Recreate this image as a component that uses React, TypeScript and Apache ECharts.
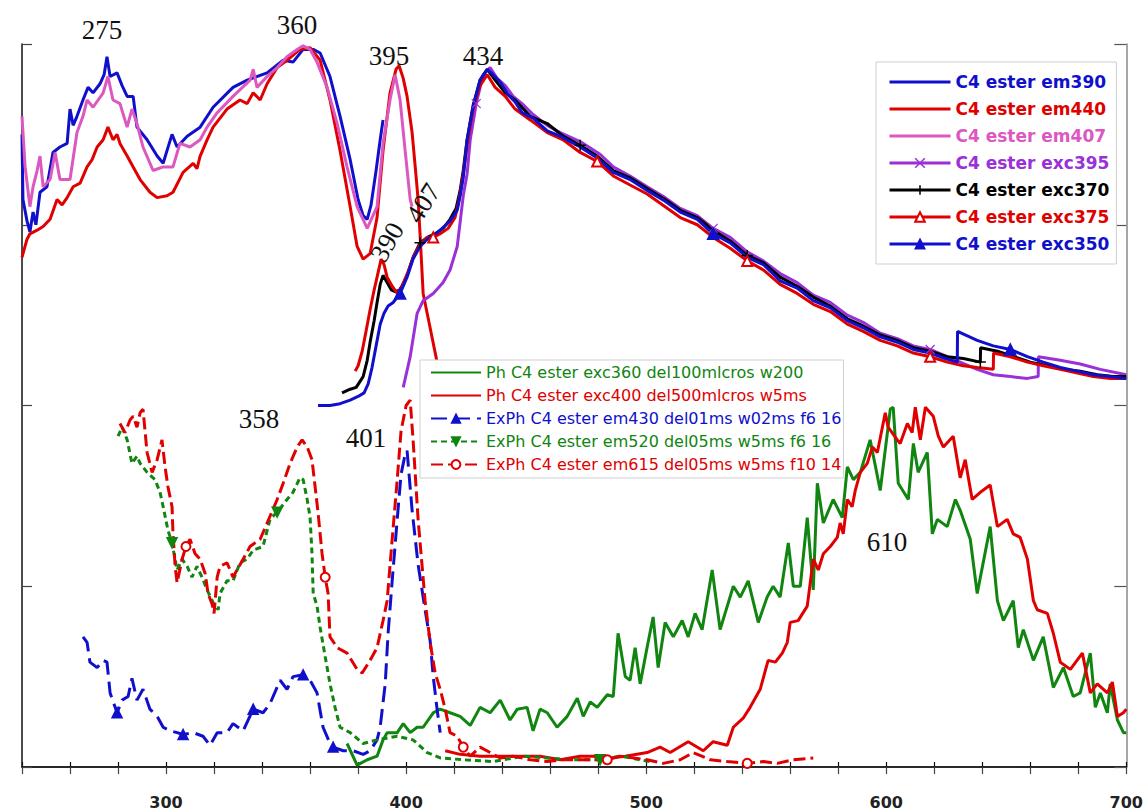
import React, { useEffect, useRef } from 'react';
import * as echarts from 'echarts';

type P = [number, number];

// ---------- upper spectra (excitation / fluorescence) ----------
const em390: P[] = [[240.0,3.50],[240.4,3.14],[242.1,3.02],[243.3,2.96],[244.6,3.07],[245.8,3.00],[247.5,3.18],[250.4,3.21],[252.9,3.40],[255.8,3.43],[258.8,3.45],[260.0,3.64],[261.3,3.55],[262.9,3.60],[265.4,3.69],[267.5,3.76],[269.6,3.73],[272.5,3.78],[274.2,3.83],[275.4,3.93],[276.7,3.82],[279.6,3.84],[281.7,3.77],[283.8,3.71],[286.3,3.71],[287.9,3.54],[292.1,3.47],[296.3,3.38],[298.8,3.34],[300.4,3.41],[302.5,3.50],[304.6,3.43],[308.8,3.49],[314.2,3.54],[319.6,3.65],[327.9,3.76],[333.8,3.80],[342.1,3.84],[348.8,3.91],[352.9,3.90],[357.1,3.97],[361.3,3.97],[364.2,3.95],[368.3,3.82],[372.5,3.60],[376.7,3.36],[380.0,3.14],[382.1,3.05],[383.8,3.03],[385.4,3.11],[387.5,3.30],[389.2,3.47],[390.4,3.58]];

const em440: P[] = [[240.0,2.82],[242.1,2.92],[243.3,2.95],[246.3,2.97],[248.8,2.99],[251.7,3.03],[254.6,3.14],[256.7,3.11],[258.8,3.15],[261.3,3.21],[264.2,3.23],[267.1,3.32],[269.2,3.36],[271.3,3.43],[273.8,3.47],[275.8,3.54],[277.9,3.47],[279.6,3.50],[280.8,3.45],[283.8,3.38],[286.3,3.32],[289.2,3.25],[293.3,3.18],[296.3,3.15],[300.4,3.16],[302.9,3.18],[307.1,3.29],[311.3,3.34],[312.9,3.31],[314.2,3.38],[317.1,3.47],[319.6,3.54],[325.4,3.64],[330.8,3.69],[333.8,3.67],[336.3,3.73],[339.2,3.69],[342.1,3.78],[346.3,3.87],[350.4,3.91],[355.8,3.97],[360.0,3.98],[364.2,3.91],[368.3,3.69],[372.5,3.41],[376.7,3.10],[379.6,2.88],[382.1,2.81],[385.0,2.84],[387.9,3.04],[390.4,3.41],[393.3,3.73],[395.8,3.86],[397.1,3.88],[398.8,3.81],[400.4,3.71],[402.5,3.51],[403.8,3.32],[405.0,3.14],[405.8,2.95],[407.1,2.62],[410.0,2.43],[412.9,2.24]];

const em407: P[] = [[240.0,3.60],[241.3,3.32],[243.3,3.10],[244.6,3.21],[246.3,3.30],[247.5,3.38],[248.8,3.21],[251.7,3.25],[253.8,3.40],[255.8,3.25],[260.0,3.25],[262.9,3.51],[265.4,3.60],[267.1,3.69],[269.6,3.65],[273.8,3.73],[275.8,3.82],[277.9,3.69],[280.8,3.67],[283.8,3.54],[285.8,3.64],[287.9,3.56],[290.4,3.43],[294.6,3.30],[298.8,3.32],[302.9,3.32],[305.8,3.45],[310.0,3.43],[314.2,3.47],[317.1,3.54],[321.3,3.62],[327.9,3.71],[335.0,3.80],[336.3,3.86],[337.9,3.76],[342.1,3.82],[346.3,3.87],[350.4,3.93],[354.6,3.97],[357.1,3.99],[360.0,3.97],[362.9,3.90],[367.1,3.76],[371.3,3.56],[375.4,3.32],[379.6,3.10],[383.8,2.98],[387.9,3.10],[390.4,3.45],[393.3,3.69],[395.4,3.83],[397.5,3.69],[399.6,3.41],[401.7,3.14],[402.5,3.10]];

const exc395: P[] = [[398.8,2.10],[401.7,2.27],[404.6,2.51],[407.1,2.58],[411.3,2.62],[415.4,2.68],[418.3,2.75],[421.3,2.88],[423.8,3.16],[425.4,3.28],[426.7,3.47],[429.2,3.67],[432.1,3.83],[435.0,3.87],[437.9,3.81],[441.3,3.77],[444.6,3.71],[448.3,3.67],[452.9,3.61],[458.8,3.55],[464.2,3.51],[472.5,3.46],[480.8,3.39],[486.3,3.32],[493.3,3.27],[500.4,3.21],[507.9,3.15],[514.2,3.09],[521.3,3.05],[527.9,2.98],[535.0,2.93],[542.1,2.85],[548.8,2.80],[555.8,2.73],[562.9,2.68],[569.6,2.61],[576.7,2.57],[583.8,2.50],[590.4,2.46],[597.5,2.40],[604.6,2.37],[611.3,2.33],[618.3,2.31],[625.4,2.27],[630.8,2.24],[637.9,2.20],[644.6,2.17],[651.7,2.16],[658.8,2.15],[663.3,2.16],[663.4,2.27],[672.5,2.25],[680.8,2.23],[689.2,2.20],[700.0,2.17]];

const exc370: P[] = [[373.3,2.07],[376.7,2.09],[379.2,2.10],[382.1,2.16],[383.8,2.25],[385.0,2.35],[386.7,2.47],[387.9,2.57],[389.2,2.67],[390.4,2.72],[392.1,2.68],[393.8,2.64],[395.4,2.63],[397.5,2.64],[400.4,2.72],[402.9,2.82],[405.8,2.90],[408.8,2.93],[412.1,2.95],[415.4,2.98],[418.3,3.03],[420.8,3.09],[422.5,3.19],[423.8,3.30],[425.4,3.47],[427.9,3.66],[430.8,3.80],[433.8,3.86],[437.1,3.80],[441.3,3.73],[445.4,3.69],[451.7,3.60],[458.8,3.56],[465.4,3.49],[472.5,3.44],[479.6,3.38],[486.3,3.30],[493.3,3.26],[500.4,3.20],[507.9,3.14],[514.2,3.08],[521.3,3.04],[527.9,2.97],[535.0,2.91],[542.1,2.83],[548.8,2.79],[555.8,2.71],[562.9,2.66],[569.6,2.60],[576.7,2.55],[583.8,2.48],[590.4,2.44],[597.5,2.39],[604.6,2.36],[611.3,2.32],[618.3,2.30],[625.4,2.27],[632.1,2.26],[639.2,2.24],[639.3,2.32],[646.3,2.30],[653.3,2.27],[660.0,2.24],[667.1,2.22],[673.8,2.20],[680.8,2.19],[687.9,2.17],[694.6,2.16],[700.0,2.16]];

const exc375: P[] = [[378.8,2.19],[380.0,2.22],[381.7,2.30],[383.3,2.41],[385.0,2.53],[386.7,2.64],[387.9,2.71],[389.6,2.81],[390.8,2.78],[392.1,2.71],[394.2,2.66],[396.3,2.62],[398.3,2.66],[400.8,2.74],[403.3,2.83],[405.8,2.89],[408.8,2.93],[411.3,2.93],[414.2,2.95],[417.5,2.98],[420.4,3.04],[422.1,3.14],[423.8,3.28],[425.4,3.44],[427.9,3.64],[430.8,3.77],[433.8,3.83],[437.1,3.76],[441.3,3.71],[445.4,3.64],[451.7,3.58],[458.8,3.51],[465.4,3.47],[472.5,3.40],[479.6,3.35],[486.3,3.27],[493.3,3.22],[500.4,3.17],[507.9,3.10],[514.2,3.04],[521.3,3.00],[527.9,2.93],[535.0,2.87],[542.1,2.80],[548.8,2.75],[555.8,2.67],[562.9,2.62],[569.6,2.56],[576.7,2.52],[583.8,2.45],[590.4,2.41],[597.5,2.36],[604.6,2.33],[611.3,2.29],[618.3,2.27],[625.4,2.24],[632.1,2.22],[637.9,2.21],[644.6,2.20],[644.7,2.29],[651.7,2.27],[658.8,2.24],[665.4,2.22],[672.5,2.20],[679.6,2.18],[686.3,2.16],[693.3,2.15],[700.0,2.15]];

const exc350: P[] = [[363.3,2.00],[368.3,2.00],[372.5,2.01],[376.7,2.03],[380.0,2.05],[382.5,2.07],[384.2,2.12],[385.8,2.21],[387.5,2.33],[389.2,2.45],[390.8,2.51],[392.5,2.55],[394.6,2.57],[397.5,2.62],[400.4,2.71],[402.9,2.81],[405.8,2.88],[408.8,2.92],[411.3,2.94],[414.2,2.97],[418.3,3.02],[421.3,3.08],[422.5,3.16],[423.8,3.26],[425.4,3.47],[427.9,3.65],[430.8,3.80],[433.8,3.86],[436.3,3.83],[439.2,3.79],[442.5,3.72],[445.4,3.68],[448.3,3.62],[452.9,3.59],[458.8,3.52],[464.2,3.49],[472.5,3.43],[479.6,3.37],[486.3,3.29],[493.3,3.25],[500.4,3.19],[507.9,3.13],[514.2,3.07],[521.3,3.03],[527.9,2.95],[535.0,2.90],[542.1,2.82],[548.8,2.78],[555.8,2.69],[562.9,2.65],[569.6,2.58],[576.7,2.54],[583.8,2.47],[590.4,2.43],[597.5,2.38],[604.6,2.35],[611.3,2.31],[618.3,2.29],[624.6,2.26],[629.6,2.24],[629.7,2.41],[637.9,2.36],[644.6,2.33],[651.7,2.31],[658.8,2.27],[665.4,2.24],[672.5,2.21],[679.6,2.19],[686.3,2.17],[693.3,2.16],[700.0,2.15]];

// ---------- lower spectra (phosphorescence) ----------
const phExc360: P[] = [[375.4,0.13],[379.6,0.01],[383.8,0.04],[387.9,0.06],[390.4,0.15],[392.1,0.19],[394.6,0.19],[396.3,0.19],[398.8,0.24],[401.7,0.19],[404.6,0.22],[407.1,0.22],[411.3,0.30],[414.2,0.32],[418.3,0.30],[422.5,0.28],[426.7,0.23],[430.8,0.33],[435.0,0.30],[439.2,0.37],[443.3,0.26],[446.3,0.32],[450.4,0.33],[452.9,0.20],[455.8,0.32],[458.8,0.30],[462.9,0.22],[467.1,0.28],[471.3,0.38],[473.8,0.28],[476.7,0.36],[479.6,0.33],[483.8,0.40],[486.3,0.39],[488.3,0.74],[491.3,0.50],[493.3,0.48],[495.4,0.66],[497.5,0.46],[500.8,0.69],[502.9,0.83],[505.0,0.55],[507.9,0.80],[511.3,0.72],[515.0,0.81],[517.5,0.72],[520.4,0.85],[523.3,0.76],[527.5,1.09],[530.8,0.76],[536.3,1.00],[539.2,0.94],[542.5,1.03],[546.7,0.80],[550.4,0.94],[552.9,1.00],[555.8,0.94],[559.2,1.24],[561.3,1.00],[564.2,1.00],[567.1,1.38],[569.6,0.98],[571.3,1.57],[573.8,1.35],[577.9,1.48],[581.7,1.38],[583.8,1.66],[586.3,1.59],[589.2,1.63],[593.3,1.81],[597.5,1.53],[601.7,1.98],[602.9,1.99],[605.0,1.57],[609.2,1.48],[611.3,1.79],[613.3,1.63],[617.1,1.74],[619.2,1.29],[621.3,1.37],[625.4,1.33],[628.8,1.48],[630.8,1.42],[635.0,1.26],[637.9,0.96],[643.3,1.33],[646.3,0.92],[648.8,0.81],[652.9,0.92],[655.0,0.66],[657.1,0.76],[661.3,0.59],[665.4,0.72],[669.6,0.44],[673.8,0.55],[677.9,0.39],[680.8,0.41],[685.0,0.63],[687.1,0.33],[689.2,0.41],[692.1,0.30],[693.3,0.46],[696.3,0.26],[698.8,0.19],[700.0,0.19]];

const phExc400: P[] = [[416.3,0.09],[422.5,0.07],[430.8,0.06],[439.2,0.06],[447.5,0.06],[455.8,0.06],[464.2,0.04],[472.5,0.06],[477.9,0.06],[485.0,0.05],[491.3,0.06],[500.4,0.08],[505.8,0.11],[510.0,0.08],[517.5,0.14],[523.8,0.09],[527.9,0.14],[533.8,0.12],[536.3,0.22],[540.4,0.27],[543.3,0.33],[547.5,0.43],[550.8,0.59],[553.8,0.58],[556.7,0.63],[558.8,0.69],[560.0,0.80],[563.3,0.81],[567.1,0.89],[569.6,1.15],[571.7,1.09],[573.8,1.18],[576.7,1.22],[579.6,1.27],[580.8,1.35],[582.1,1.29],[583.8,1.48],[585.8,1.44],[587.1,1.53],[589.2,1.63],[592.1,1.68],[594.2,1.77],[596.3,1.74],[599.6,1.96],[600.8,1.88],[604.6,1.81],[605.8,1.79],[608.8,1.90],[610.8,1.85],[612.1,1.99],[614.2,1.81],[616.3,1.99],[619.6,1.94],[621.7,1.83],[623.8,1.77],[627.9,1.83],[630.8,1.60],[632.9,1.70],[635.8,1.48],[639.2,1.52],[643.3,1.56],[646.3,1.33],[650.4,1.37],[652.9,1.29],[655.8,1.27],[658.8,1.15],[661.3,0.92],[662.9,0.87],[667.1,0.85],[669.6,0.74],[672.5,0.58],[676.7,0.54],[681.7,0.63],[685.0,0.41],[687.9,0.46],[692.1,0.41],[694.2,0.47],[696.3,0.28],[698.8,0.30],[700.0,0.32]];

const exPhEm430: P[] = [[265.4,0.72],[267.1,0.69],[268.3,0.58],[271.3,0.55],[273.8,0.59],[275.4,0.58],[276.7,0.41],[279.6,0.30],[281.7,0.37],[284.2,0.39],[285.8,0.49],[287.9,0.37],[290.4,0.43],[293.3,0.32],[296.3,0.28],[298.8,0.22],[301.7,0.20],[304.6,0.19],[307.1,0.18],[311.3,0.19],[315.4,0.17],[318.3,0.12],[321.3,0.19],[325.4,0.19],[327.9,0.24],[332.1,0.20],[336.3,0.32],[340.4,0.30],[343.3,0.35],[347.5,0.48],[350.4,0.43],[352.9,0.50],[357.1,0.51],[360.0,0.48],[362.9,0.41],[365.4,0.22],[368.3,0.13],[369.6,0.11],[373.8,0.09],[377.9,0.09],[382.1,0.07],[385.0,0.09],[387.9,0.15],[389.2,0.22],[391.3,0.46],[392.5,0.74],[394.2,1.03],[396.3,1.37],[397.9,1.62],[399.6,1.73],[400.4,1.75],[402.5,1.42],[405.0,1.12],[407.9,0.87],[410.0,0.70],[411.3,0.50],[412.9,0.32],[414.2,0.19]];

const exPhEm520: P[] = [[280.0,1.83],[281.7,1.88],[283.8,1.81],[285.8,1.68],[287.9,1.72],[289.2,1.68],[292.1,1.63],[295.4,1.59],[297.5,1.52],[298.8,1.44],[300.8,1.31],[302.5,1.24],[304.6,1.09],[306.7,1.15],[308.8,1.11],[310.8,1.05],[312.9,1.11],[315.0,1.05],[317.1,0.98],[319.6,0.91],[321.7,0.87],[322.5,0.96],[325.4,1.03],[327.9,1.03],[330.8,1.13],[333.8,1.15],[336.3,1.20],[340.4,1.22],[343.3,1.37],[346.3,1.41],[350.4,1.48],[352.9,1.52],[355.8,1.60],[357.1,1.59],[358.8,1.48],[360.0,1.38],[360.8,1.18],[361.3,0.96],[362.9,0.89],[364.2,0.77],[366.3,0.61],[368.3,0.46],[370.4,0.33],[372.5,0.22],[376.7,0.19],[382.1,0.13],[387.9,0.15],[396.3,0.17],[402.9,0.15],[408.8,0.08],[414.2,0.05],[423.8,0.04],[436.3,0.03],[448.8,0.06],[458.8,0.05],[469.6,0.04],[480.8,0.04],[489.2,0.06],[497.5,0.04],[501.7,0.03]];

const exPhEm615: P[] = [[280.8,1.90],[282.9,1.85],[285.0,1.92],[286.3,1.94],[287.9,1.88],[289.2,1.96],[290.4,1.98],[292.1,1.74],[294.2,1.63],[296.3,1.70],[298.3,1.81],[299.6,1.66],[300.8,1.55],[302.5,1.44],[302.9,1.29],[303.8,1.11],[304.6,1.02],[306.7,1.15],[308.3,1.22],[310.0,1.26],[312.1,1.18],[314.2,1.15],[316.3,1.07],[317.5,0.96],[319.2,0.90],[320.0,0.85],[321.3,1.05],[322.5,1.11],[325.4,1.13],[327.9,1.05],[332.1,1.15],[335.0,1.22],[339.2,1.26],[342.1,1.35],[346.3,1.48],[348.8,1.57],[351.7,1.68],[354.6,1.77],[356.7,1.81],[358.8,1.77],[360.8,1.70],[362.1,1.55],[363.3,1.41],[365.0,1.18],[366.3,1.05],[367.5,0.96],[368.3,0.72],[371.3,0.66],[375.4,0.63],[379.6,0.54],[381.7,0.52],[385.0,0.59],[387.9,0.66],[390.4,0.81],[392.1,0.92],[394.2,1.26],[396.3,1.59],[397.9,1.86],[400.0,2.00],[401.7,2.03],[402.9,1.81],[405.0,1.37],[407.9,0.92],[410.0,0.69],[412.1,0.52],[414.2,0.43],[416.3,0.32],[418.3,0.19],[421.3,0.17],[423.8,0.11],[426.7,0.06],[430.8,0.11],[435.0,0.08],[439.2,0.05],[444.6,0.06],[451.7,0.04],[458.8,0.03],[465.4,0.04],[472.5,0.04],[483.8,0.04],[489.2,0.06],[500.4,0.04],[507.1,0.02],[514.2,0.04],[519.6,0.08],[526.7,0.04],[533.8,0.03],[542.1,0.02],[548.8,0.03],[554.6,0.02],[561.3,0.04],[569.6,0.05]];

// wavelengths (nm) where the markers sit on each curve
const mkExc395 = [429.2, 527.9, 618.3];
const mkExc370 = [405.8, 472.5, 542.1, 639.2];
const mkExc375 = [411.3, 479.6, 542.1, 618.3];
const mkExc350 = [397.5, 527.9, 651.7];
const mkEm430 = [279.6, 307.1, 336.3, 357.1, 369.6];
const mkEm520 = [302.5, 346.3, 480.8];
const mkEm615 = [308.3, 366.3, 423.8, 483.8, 542.1];

// annotation texts
const peakLabels = [
  { t: '275', x: 102, y: 30, r: 0 },
  { t: '360', x: 297, y: 25, r: 0 },
  { t: '395', x: 389, y: 56, r: 0 },
  { t: '434', x: 483, y: 56, r: 0 },
  { t: '390', x: 387, y: 242, r: 1.05 },
  { t: '407', x: 423, y: 203, r: 1.0 },
  { t: '358', x: 259, y: 419, r: 0 },
  { t: '401', x: 366, y: 438, r: 0 },
  { t: '610', x: 887, y: 542, r: 0 },
];

const BLUE = '#1010cc';
const RED = '#e00000';
const PINK = '#dc58c0';
const PURPLE = '#9a30d8';
const BLACK = '#000000';
const GREEN = '#108510';

const PLUS = 'path://M5,0L5,10M0,5L10,5';
const CROSS = 'path://M0,0L10,10M10,0L0,10';

function withMarkers(data: P[], markerXs: number[]) {
  const idx = new Set<number>();
  markerXs.forEach((mx) => {
    let best = 0;
    data.forEach((p, i) => {
      if (Math.abs(p[0] - mx) < Math.abs(data[best][0] - mx)) best = i;
    });
    idx.add(best);
  });
  return data.map((p, i) => (idx.has(i) ? { value: p } : { value: p, symbol: 'none' }));
}

function mkLine(name: string, data: any[], color: string, o: any = {}) {
  return {
    name,
    type: 'line',
    data,
    symbol: o.symbol ?? 'none',
    symbolSize: o.size ?? 10,
    symbolRotate: o.rotate ?? 0,
    showSymbol: true,
    silent: true,
    clip: true,
    lineStyle: { color, width: o.width ?? 3, type: o.dash ?? 'solid' },
    itemStyle: { color, borderColor: color, borderWidth: o.bw ?? 1.5 },
    emphasis: { disabled: true },
  };
}

const series = [
  mkLine('C4 ester em390', em390, BLUE),
  mkLine('C4 ester em440', em440, RED),
  mkLine('C4 ester em407', em407, PINK),
  mkLine('C4 ester exc395', withMarkers(exc395, mkExc395), PURPLE, { symbol: CROSS, size: 9, bw: 1.2 }),
  mkLine('C4 ester exc370', withMarkers(exc370, mkExc370), BLACK, { symbol: PLUS, size: 11, bw: 1.5 }),
  mkLine('C4 ester exc375', withMarkers(exc375, mkExc375), RED, { symbol: 'emptyTriangle', size: 10 }),
  mkLine('C4 ester exc350', withMarkers(exc350, mkExc350), BLUE, { symbol: 'triangle', size: 11 }),
  mkLine('Ph C4 ester exc360 del100mlcros w200', phExc360, GREEN),
  mkLine('Ph C4 ester exc400 del500mlcros w5ms', phExc400, RED),
  mkLine('ExPh C4 ester em430 del01ms w02ms f6 16', withMarkers(exPhEm430, mkEm430), BLUE, { symbol: 'triangle', size: 10, dash: [16, 7] }),
  mkLine('ExPh C4 ester em520 del05ms w5ms f6 16', withMarkers(exPhEm520, mkEm520), GREEN, { symbol: 'triangle', rotate: 180, size: 10, dash: [6, 4] }),
  mkLine('ExPh C4 ester em615 del05ms w5ms f10 14', withMarkers(exPhEm615, mkEm615), RED, { symbol: 'emptyCircle', size: 9, dash: [12, 5] }),
];

// [name, colour, has marker]
const legend1: [string, string, boolean][] = [
  ['C4 ester em390', BLUE, false],
  ['C4 ester em440', RED, false],
  ['C4 ester em407', PINK, false],
  ['C4 ester exc395', PURPLE, true],
  ['C4 ester exc370', BLACK, true],
  ['C4 ester exc375', RED, true],
  ['C4 ester exc350', BLUE, true],
];
const legend2: [string, string, boolean][] = [
  ['Ph C4 ester exc360 del100mlcros w200', GREEN, false],
  ['Ph C4 ester exc400 del500mlcros w5ms', RED, false],
  ['ExPh C4 ester em430 del01ms w02ms f6 16', BLUE, true],
  ['ExPh C4 ester em520 del05ms w5ms f6 16', GREEN, true],
  ['ExPh C4 ester em615 del05ms w5ms f10 14', RED, true],
];

const legendItem = ([n, c, m]: [string, string, boolean]) =>
  m
    ? { name: n, textStyle: { color: c }, itemStyle: { borderColor: c, borderWidth: 1.5 } }
    : { name: n, textStyle: { color: c }, itemStyle: { opacity: 0 } };

const option: any = {
  animation: false,
  backgroundColor: '#ffffff',
  grid: { left: 22, right: 19, top: 44, bottom: 45, containLabel: false },
  xAxis: [
    {
      type: 'value', min: 240, max: 700, interval: 20, position: 'bottom',
      axisLine: { show: true, lineStyle: { color: '#444', width: 1.5 } },
      axisTick: { show: true, length: 7, inside: false, lineStyle: { color: '#444', width: 1.2 } },
      axisLabel: {
        formatter: (v: number) => (v % 100 === 0 ? String(v) : ''),
        fontFamily: 'DejaVu Sans', fontWeight: 'bold', fontSize: 16, color: '#222', margin: 27,
      },
      splitLine: { show: false },
    },
    {
      type: 'value', min: 240, max: 700, interval: 20, position: 'top',
      axisLine: { show: true, lineStyle: { color: '#111', width: 1.5 } },
      axisTick: { show: true, length: 5, inside: false, lineStyle: { color: '#111', width: 1.2 } },
      axisLabel: { show: false },
      splitLine: { show: false },
    },
  ],
  yAxis: [
    {
      type: 'value', min: 0, max: 4, interval: 1, position: 'left',
      axisLine: { show: true, lineStyle: { color: '#111', width: 1.5 } },
      axisTick: { show: true, inside: true, length: 10, lineStyle: { color: '#444', width: 1.2 } },
      axisLabel: { show: false },
      splitLine: { show: false },
    },
    {
      type: 'value', min: 0, max: 4, interval: 1, position: 'right',
      axisLine: { show: true, lineStyle: { color: '#888', width: 1.5 } },
      axisTick: { show: true, inside: true, length: 12, lineStyle: { color: '#555', width: 1.2 } },
      axisLabel: { show: false },
      splitLine: { show: false },
    },
  ],
  legend: [
    {
      orient: 'vertical', left: 876, top: 62,
      padding: [10, 7, 10, 12], itemWidth: 61, itemHeight: 12, itemGap: 7,
      backgroundColor: '#fff', borderColor: '#cfcfcf', borderWidth: 1,
      selectedMode: false,
      lineStyle: { width: 3 },
      textStyle: { fontFamily: 'DejaVu Sans', fontWeight: 'bold', fontSize: 17, lineHeight: 20 },
      data: legend1.map(legendItem),
    },
    {
      orient: 'vertical', left: 420, top: 360,
      padding: [4, 2, 5, 10], itemWidth: 50, itemHeight: 11, itemGap: 6,
      backgroundColor: '#fff', borderColor: '#cfcfcf', borderWidth: 1,
      selectedMode: false,
      lineStyle: { width: 2 },
      textStyle: { fontFamily: 'DejaVu Sans', fontSize: 16, lineHeight: 17 },
      data: legend2.map(legendItem),
    },
  ],
  graphic: peakLabels.map((l) => ({
    type: 'text', x: l.x, y: l.y, rotation: l.r, z: 100,
    style: { text: l.t, fontFamily: 'Liberation Serif', fontSize: 27, fill: '#111', align: 'center', verticalAlign: 'middle' },
  })),
  series,
};

export default function App() {
  const ref = useRef<HTMLDivElement>(null);
  useEffect(() => {
    const chart = echarts.init(ref.current as HTMLDivElement, undefined, { renderer: 'svg' });
    chart.setOption(option);
    return () => chart.dispose();
  }, []);
  return (
    <div
      ref={ref}
      style={{ position: 'absolute', left: 0, top: 0, width: 1146, height: 812, background: '#fff' }}
    />
  );
}
